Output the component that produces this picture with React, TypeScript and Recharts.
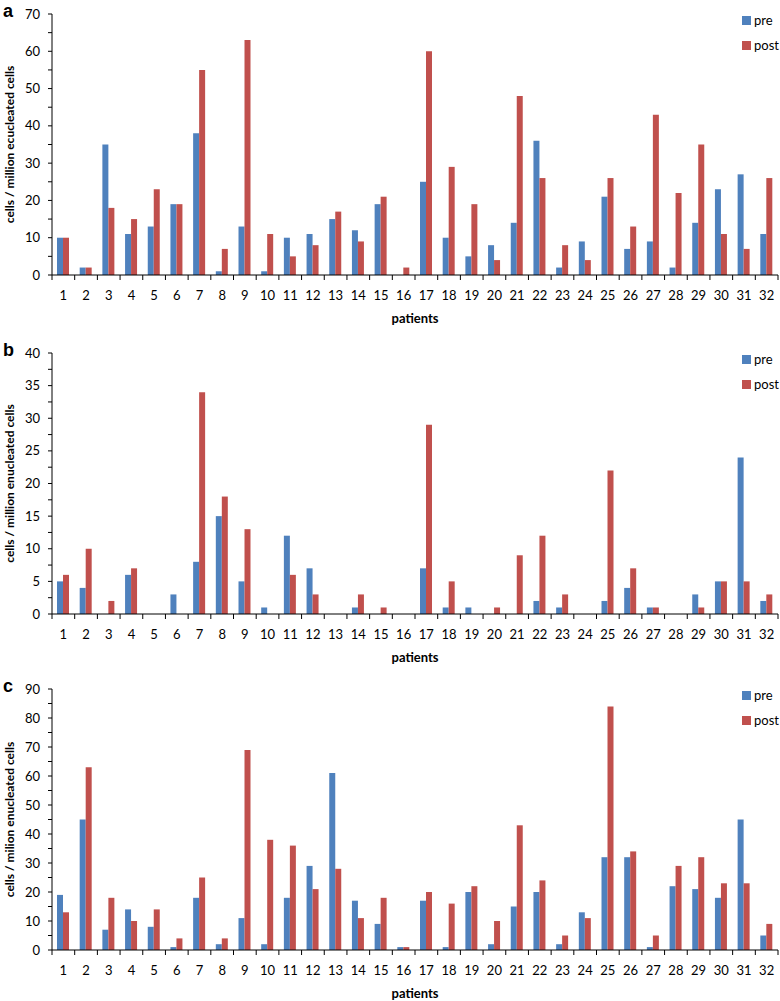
import { BarChart, Bar, XAxis, YAxis, Legend } from "recharts";

const patients = [
  "1", "2", "3", "4", "5", "6", "7", "8", "9", "10", "11", "12", "13", "14", "15", "16",
  "17", "18", "19", "20", "21", "22", "23", "24", "25", "26", "27", "28", "29", "30", "31", "32",
];

// panel a
const preA = [10, 2, 35, 11, 13, 19, 38, 1, 13, 1, 10, 11, 15, 12, 19, 0, 25, 10, 5, 8, 14, 36, 2, 9, 21, 7, 9, 2, 14, 23, 27, 11];
const postA = [10, 2, 18, 15, 23, 19, 55, 7, 63, 11, 5, 8, 17, 9, 21, 2, 60, 29, 19, 4, 48, 26, 8, 4, 26, 13, 43, 22, 35, 11, 7, 26];
const ticksA = [0, 5, 10, 15, 20, 25, 30, 35, 40, 45, 50, 55, 60, 65, 70];

// panel b
const preB = [5, 4, 0, 6, 0, 3, 8, 15, 5, 1, 12, 7, 0, 1, 0, 0, 7, 1, 1, 0, 0, 2, 1, 0, 2, 4, 1, 0, 3, 5, 24, 2];
const postB = [6, 10, 2, 7, 0, 0, 34, 18, 13, 0, 6, 3, 0, 3, 1, 0, 29, 5, 0, 1, 9, 12, 3, 0, 22, 7, 1, 0, 1, 5, 5, 3];
const ticksB = [0, 2.5, 5, 7.5, 10, 12.5, 15, 17.5, 20, 22.5, 25, 27.5, 30, 32.5, 35, 37.5, 40];

// panel c
const preC = [19, 45, 7, 14, 8, 1, 18, 2, 11, 2, 18, 29, 61, 17, 9, 1, 17, 1, 20, 2, 15, 20, 2, 13, 32, 32, 1, 22, 21, 18, 45, 5];
const postC = [13, 63, 18, 10, 14, 4, 25, 4, 69, 38, 36, 21, 28, 11, 18, 1, 20, 16, 22, 10, 43, 24, 5, 11, 84, 34, 5, 29, 32, 23, 23, 9];
const ticksC = [0, 5, 10, 15, 20, 25, 30, 35, 40, 45, 50, 55, 60, 65, 70, 75, 80, 85, 90];

const BLUE = "#4F81BD";
const RED = "#C0504D";
const W = 780;
const H = 326;
const LEFT = 52;
const RIGHT = 2;
const BAND = (W - LEFT - RIGHT) / patients.length;

function PatientTick(props: any) {
  const { x, y, payload, index } = props;
  const last = index === patients.length - 1;
  return (
    <g>
      <line x1={x - BAND / 2} y1={y} x2={x - BAND / 2} y2={y + 5} stroke="#000" />
      {last && <line x1={x + BAND / 2} y1={y} x2={x + BAND / 2} y2={y + 5} stroke="#000" />}
      <text x={x} y={y + 25} textAnchor="middle" fontSize={13} fill="#000">
        {payload.value}
      </text>
    </g>
  );
}

function LegendBox() {
  return (
    <div style={{ fontSize: 13, lineHeight: "15px", color: "#000" }}>
      {[
        ["pre", BLUE],
        ["post", RED],
      ].map(([name, color]) => (
        <div key={name} style={{ display: "flex", alignItems: "center", height: 15, marginBottom: 10 }}>
          <span style={{ width: 9, height: 9, background: color, marginRight: 3, display: "inline-block" }} />
          {name}
        </div>
      ))}
    </div>
  );
}

type PanelProps = {
  letter: string;
  pre: number[];
  post: number[];
  max: number;
  ticks: number[];
  step: number;
  yLabel: string;
  top: number;
};

function Panel({ letter, pre, post, max, ticks, step, yLabel, top }: PanelProps) {
  const data = patients.map((p, i) => ({ patient: p, pre: pre[i], post: post[i] }));
  return (
    <div style={{ position: "absolute", top, left: 0, width: W, height: H }}>
      <div style={{ position: "absolute", left: 3, top: 1, fontFamily: "Liberation Sans", fontWeight: 700, fontSize: 18 }}>
        {letter}
      </div>
      <BarChart
        width={W}
        height={H}
        data={data}
        margin={{ top: 14, right: RIGHT, left: 0, bottom: 1 }}
        barGap={0}
        barSize={6}
      >
        <XAxis
          dataKey="patient"
          interval={0}
          tickLine={false}
          tickSize={0}
          tickMargin={0}
          height={50}
          stroke="#000"
          tick={<PatientTick />}
          label={(p: any) => (
            <text
              x={p.viewBox.x + p.viewBox.width / 2}
              y={p.viewBox.y + 48}
              textAnchor="middle"
              fontSize={13}
              fontWeight={700}
              fill="#000"
            >
              patients
            </text>
          )}
        />
        <YAxis
          width={LEFT}
          domain={[0, max]}
          ticks={ticks}
          interval={0}
          tickSize={4}
          tickMargin={8}
          stroke="#000"
          tick={{ fontSize: 13, fill: "#000" }}
          tickFormatter={(v: number) => (v % step === 0 ? String(v) : "")}
          label={(p: any) => (
            <text
              transform={`translate(14, ${p.viewBox.y + p.viewBox.height / 2}) rotate(-90)`}
              textAnchor="middle"
              fontSize={12}
              fontWeight={700}
              fill="#000"
            >
              {yLabel}
            </text>
          )}
        />
        <Legend
          layout="horizontal"
          verticalAlign="middle"
          align="center"
          wrapperStyle={{ top: 13, left: 742, width: 40, height: 50 }}
          content={() => <LegendBox />}
        />
        <Bar dataKey="pre" fill={BLUE} isAnimationActive={false} />
        <Bar dataKey="post" fill={RED} isAnimationActive={false} />
      </BarChart>
    </div>
  );
}

export default function App() {
  return (
    <div
      style={{
        position: "absolute",
        top: 0,
        left: 0,
        width: W,
        height: 1001,
        overflow: "hidden",
        background: "#fff",
        fontFamily: "Lato, 'Open Sans', sans-serif",
      }}
    >
      <Panel letter="a" pre={preA} post={postA} max={70} ticks={ticksA} step={10} yLabel="cells / million ecucleated cells" top={0} />
      <Panel letter="b" pre={preB} post={postB} max={40} ticks={ticksB} step={5} yLabel="cells / million enucleated cells" top={339} />
      <Panel letter="c" pre={preC} post={postC} max={90} ticks={ticksC} step={10} yLabel="cells / milion enucleated cells" top={675} />
    </div>
  );
}
